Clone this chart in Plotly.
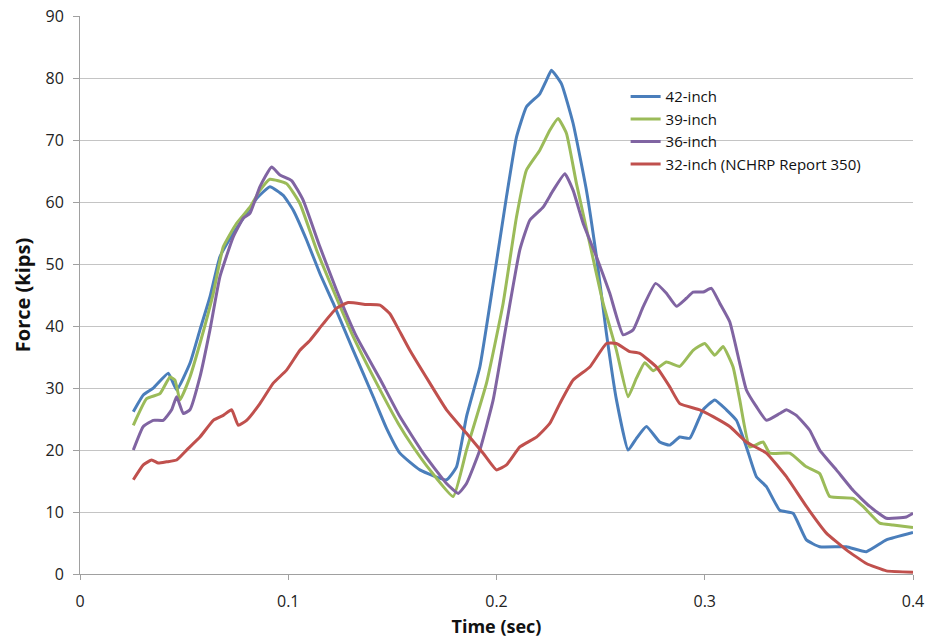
import plotly.graph_objects as go

# 42-inch
t_42 = [0.0256, 0.0304, 0.0352, 0.0424, 0.0464, 0.0528, 0.0576, 0.0624, 0.0672, 0.0736,
        0.0800, 0.0848, 0.0912, 0.0976, 0.1024, 0.1088, 0.1152, 0.1216, 0.1312, 0.1408,
        0.1472, 0.1536, 0.1632, 0.1760, 0.1808, 0.1856, 0.1920, 0.1984, 0.2048, 0.2096,
        0.2144, 0.2208, 0.2240, 0.2264, 0.2312, 0.2368, 0.2432, 0.2480, 0.2528, 0.2576,
        0.2632, 0.2672, 0.2720, 0.2784, 0.2832, 0.2880, 0.2928, 0.2992, 0.3048, 0.3104,
        0.3152, 0.3200, 0.3248, 0.3296, 0.3360, 0.3424, 0.3488, 0.3552, 0.3680, 0.3776,
        0.3872, 0.4000]
f_42 = [26.2, 28.9, 30.0, 32.4, 29.7, 34.0, 39.4, 44.7, 51.2, 55.0,
        58.2, 60.6, 62.5, 61.1, 58.7, 53.9, 48.5, 43.7, 36.1, 28.6,
        23.5, 19.5, 16.8, 15.2, 17.3, 25.4, 33.4, 46.9, 60.9, 70.5,
        75.4, 77.5, 79.7, 81.3, 79.1, 72.7, 61.9, 51.2, 38.8, 28.1,
        20.0, 21.9, 23.8, 21.3, 20.8, 22.1, 21.9, 26.5, 28.1, 26.5,
        24.8, 20.5, 15.7, 14.1, 10.3, 9.8, 5.5, 4.4, 4.4, 3.6,
        5.5, 6.7]

# 39-inch
t_39 = [0.0256, 0.0320, 0.0384, 0.0432, 0.0456, 0.0480, 0.0528, 0.0576, 0.0640, 0.0688,
        0.0752, 0.0816, 0.0864, 0.0912, 0.0992, 0.1056, 0.1136, 0.1216, 0.1312, 0.1424,
        0.1528, 0.1600, 0.1680, 0.1792, 0.1856, 0.1952, 0.2032, 0.2096, 0.2144, 0.2208,
        0.2256, 0.2296, 0.2336, 0.2384, 0.2448, 0.2512, 0.2576, 0.2632, 0.2672, 0.2712,
        0.2752, 0.2816, 0.2880, 0.2944, 0.3000, 0.3048, 0.3088, 0.3136, 0.3168, 0.3216,
        0.3280, 0.3312, 0.3408, 0.3488, 0.3552, 0.3600, 0.3712, 0.3760, 0.3840, 0.3904,
        0.4000]
f_39 = [24.0, 28.3, 29.1, 31.8, 31.3, 28.1, 31.8, 37.2, 45.3, 52.8,
        56.6, 59.2, 61.9, 63.7, 63.0, 59.8, 52.3, 45.8, 38.3, 30.8,
        24.3, 20.5, 16.8, 12.5, 20.0, 30.8, 43.7, 57.6, 65.2, 68.4,
        71.6, 73.5, 71.1, 63.0, 53.3, 43.7, 36.1, 28.6, 31.6, 34.1,
        32.8, 34.2, 33.5, 36.1, 37.2, 35.3, 36.7, 33.4, 28.1, 20.5,
        21.3, 19.5, 19.5, 17.3, 16.2, 12.5, 12.2, 10.9, 8.2, 7.9,
        7.5]

# 36-inch
t_36 = [0.0256, 0.0304, 0.0352, 0.0400, 0.0440, 0.0464, 0.0496, 0.0528, 0.0576, 0.0624,
        0.0672, 0.0736, 0.0784, 0.0816, 0.0864, 0.0920, 0.0960, 0.1016, 0.1072, 0.1152,
        0.1232, 0.1328, 0.1440, 0.1536, 0.1648, 0.1760, 0.1816, 0.1856, 0.1920, 0.1984,
        0.2048, 0.2112, 0.2160, 0.2224, 0.2272, 0.2328, 0.2368, 0.2416, 0.2480, 0.2544,
        0.2608, 0.2656, 0.2704, 0.2764, 0.2816, 0.2864, 0.2912, 0.2944, 0.2992, 0.3032,
        0.3072, 0.3120, 0.3168, 0.3200, 0.3248, 0.3296, 0.3360, 0.3392, 0.3440, 0.3504,
        0.3552, 0.3632, 0.3712, 0.3792, 0.3872, 0.3968, 0.4000]
f_36 = [20.0, 23.8, 24.8, 24.8, 26.5, 28.6, 25.9, 26.5, 31.8, 39.4,
        48.0, 54.4, 57.4, 58.2, 62.5, 65.7, 64.4, 63.5, 60.3, 52.8,
        45.8, 38.3, 31.5, 25.4, 19.5, 14.6, 13.0, 14.6, 20.0, 28.1,
        40.4, 52.3, 57.1, 59.2, 61.9, 64.6, 61.9, 56.6, 51.2, 45.3,
        38.6, 39.4, 43.1, 46.9, 45.3, 43.2, 44.5, 45.5, 45.5, 46.1,
        43.7, 40.7, 34.0, 29.7, 27.0, 24.8, 25.9, 26.5, 25.6, 23.2,
        20.0, 16.8, 13.5, 10.9, 9.0, 9.2, 9.8]

# 32-inch (NCHRP Report 350)
t_32 = [0.0256, 0.0304, 0.0344, 0.0376, 0.0416, 0.0464, 0.0512, 0.0576, 0.0640, 0.0688,
        0.0728, 0.0760, 0.0800, 0.0864, 0.0928, 0.0992, 0.1056, 0.1104, 0.1168, 0.1232,
        0.1288, 0.1376, 0.1440, 0.1488, 0.1528, 0.1584, 0.1680, 0.1760, 0.1856, 0.1936,
        0.2000, 0.2048, 0.2112, 0.2192, 0.2256, 0.2304, 0.2368, 0.2448, 0.2528, 0.2576,
        0.2640, 0.2688, 0.2768, 0.2832, 0.2880, 0.2976, 0.3040, 0.3120, 0.3200, 0.3296,
        0.3392, 0.3488, 0.3584, 0.3680, 0.3776, 0.3872, 0.4000]
f_32 = [15.2, 17.6, 18.4, 17.9, 18.1, 18.4, 20.0, 22.1, 24.8, 25.6,
        26.5, 24.0, 24.8, 27.5, 30.8, 32.9, 36.1, 37.7, 40.4, 42.9,
        43.8, 43.5, 43.4, 42.0, 39.6, 36.1, 30.8, 26.5, 22.7, 19.5,
        16.8, 17.6, 20.5, 22.1, 24.3, 27.5, 31.3, 33.4, 37.2, 37.2,
        35.9, 35.6, 33.4, 30.2, 27.5, 26.5, 25.4, 23.8, 21.3, 19.5,
        15.7, 10.9, 6.6, 3.9, 1.7, 0.5, 0.3]

x_ticks = [0, 0.1, 0.2, 0.3, 0.4]
x_labels = ["0", "0.1", "0.2", "0.3", "0.4"]
y_ticks = [0, 10, 20, 30, 40, 50, 60, 70, 80, 90]

series = [
    ("42-inch", t_42, f_42, "#4a7ebb"),
    ("39-inch", t_39, f_39, "#9bbb59"),
    ("36-inch", t_36, f_36, "#8064a2"),
    ("32-inch (NCHRP Report 350)", t_32, f_32, "#c0504d"),
]

FONT = "Open Sans, sans-serif"

fig = go.Figure()
for name, t, f, color in series:
    fig.add_trace(go.Scatter(x=t, y=f, mode="lines", name=name,
                             line=dict(color=color, width=3, shape="spline", smoothing=0.4)))

fig.update_layout(
    width=933, height=643,
    margin=dict(l=80, r=20, t=16, b=69),
    plot_bgcolor="white", paper_bgcolor="white",
    font=dict(family=FONT, size=16, color="#222"),
    legend=dict(x=0.655, y=0.885, xanchor="left", yanchor="top",
                bgcolor="rgba(0,0,0,0)", font=dict(size=15, color="#111"),
                tracegroupgap=0, itemwidth=30),
    xaxis=dict(range=[0, 0.4], tickvals=x_ticks, ticktext=x_labels, automargin=False,
               showgrid=False, zeroline=False, showline=True, linecolor="#a0a0a0",
               linewidth=1, ticks="outside", ticklen=5, tickcolor="#a0a0a0",
               ticklabelstandoff=8, ticklabeloverflow="allow",
               title=dict(text="<b>Time (sec)</b>", font=dict(size=18, color="#111"), standoff=9)),
    yaxis=dict(range=[0, 90.05], tickvals=y_ticks, showgrid=True, gridcolor="#c4c4c4", gridwidth=1,
               zeroline=False, showline=True, linecolor="#a0a0a0", linewidth=1, automargin=False,
               ticks="outside", ticklen=6, tickcolor="#a0a0a0", ticklabelstandoff=6,
               ticklabeloverflow="allow",
               title=dict(text="<b>Force (kips)</b>", font=dict(size=20, color="#111"), standoff=9)),
)

# on supprime la marge par défaut du <body> pour que la figure occupe toute la fenêtre
fig.write_html("out.html", config={"displayModeBar": False},
               post_script="document.body.style.margin='0';")
